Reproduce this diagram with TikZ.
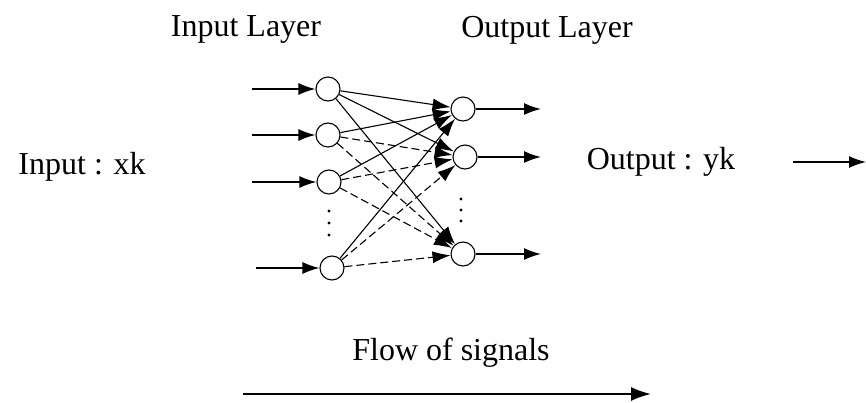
\documentclass[tikz,border=0pt]{standalone}
\usepackage{fontspec}
\setmainfont{Liberation Serif}
\usetikzlibrary{arrows.meta}
\begin{document}
\begin{tikzpicture}[x=1pt,y=-1pt,
  neuron/.style={circle,draw,line width=1.1pt,minimum size=24pt,inner sep=0pt},
  lbl/.style={anchor=base,inner sep=0pt,font=\fontsize{32}{38}\selectfont},
  conn/.style={-{Latex[length=18pt,width=12pt]},line width=1.1pt},
  dconn/.style={conn,dash pattern=on 8pt off 4pt},
  io/.style={-{Latex[length=17pt,width=12pt]},line width=1.5pt},
  dotf/.style={fill,circle,minimum size=3.2pt,inner sep=0pt}]
\useasboundingbox (0,0) rectangle (866,403);
% labels
\node[lbl] (tin) at (246,37) {Input Layer};
\node[lbl] (tout) at (547,38) {Output Layer};
\node[lbl] (lx) at (82,175) {Input : xk};
\node[lbl] (ly) at (661,170) {Output : yk};
\node[lbl] (lf) at (451,360) {Flow of signals};
% input neurons
\node[neuron] (i1) at (328,89) {};
\node[neuron] (i2) at (328,135) {};
\node[neuron] (i3) at (329,182) {};
\node[neuron] (i4) at (332,268) {};
\foreach \y [count=\k] in {211,223,235} \node[dotf] (di\k) at (329,\y) {};
% output neurons
\node[neuron] (o1) at (463,109) {};
\node[neuron] (o2) at (465,157) {};
\node[neuron] (o3) at (463,254) {};
\foreach \y [count=\k] in {199,210,221} \node[dotf] (do\k) at (461,\y) {};
% input arrows
\coordinate (a1) at (252,89);
\coordinate (a2) at (252,135);
\coordinate (a3) at (252,182);
\coordinate (a4) at (256,268);
\foreach \n in {1,2,3,4} \draw[io] (a\n) -- (i\n);
% output arrows
\coordinate (b1) at (541,109);
\coordinate (b2) at (541,157);
\coordinate (b3) at (541,254);
\foreach \n in {1,2,3} \draw[io] (o\n) -- (b\n);
% connections
\draw[conn] (i1) -- (o1);
\draw[conn] (i1) -- (o2);
\draw[conn] (i1) -- (o3);
\draw[conn] (i2) -- (o1);
\draw[dconn] (i2) -- (o2);
\draw[dconn] (i2) -- (o3);
\draw[conn] (i3) -- (o1);
\draw[dconn] (i3) -- (o2);
\draw[dconn] (i3) -- (o3);
\draw[conn] (i4) -- (o1);
\draw[dconn] (i4) -- (o2);
\draw[dconn] (i4) -- (o3);
% right arrow
\coordinate (r0) at (793,162);
\coordinate (r1) at (866,162);
\draw[io] (r0) -- (r1);
% flow arrow
\coordinate (f0) at (243,394);
\coordinate (f1) at (651,394);
\draw[-{Latex[length=20pt,width=14pt]},line width=2pt] (f0) -- (f1);
\end{tikzpicture}
\end{document}
